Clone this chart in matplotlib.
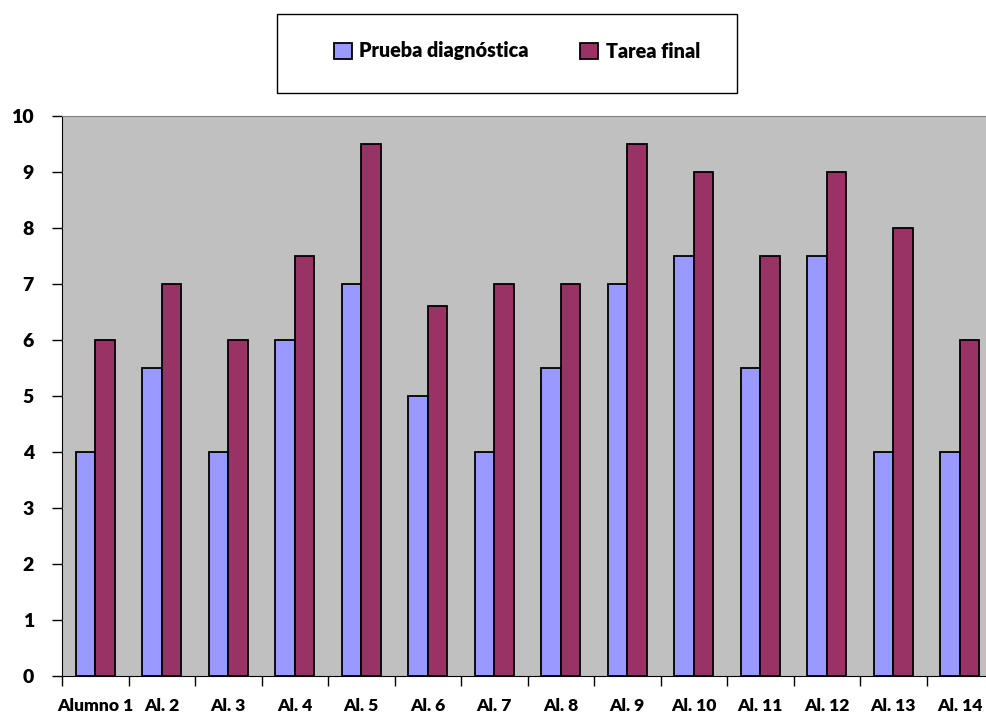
import numpy as np
import matplotlib.pyplot as plt
from matplotlib.patches import Rectangle

plt.rcParams['font.family'] = ['Lato', 'DejaVu Sans']
plt.rcParams['font.weight'] = 'heavy'

alumnos = ['Alumno 1', 'Al. 2', 'Al. 3', 'Al. 4', 'Al. 5', 'Al. 6', 'Al. 7',
           'Al. 8', 'Al. 9', 'Al. 10', 'Al. 11', 'Al. 12', 'Al. 13', 'Al. 14']
diagnostica = [4, 5.5, 4, 6, 7, 5, 4, 5.5, 7, 7.5, 5.5, 7.5, 4, 4]
tarea_final = [6, 7, 6, 7.5, 9.5, 6.6, 7, 7, 9.5, 9, 7.5, 9, 8, 6]

fig = plt.figure(figsize=(9.86, 7.19), dpi=100)
ax = fig.add_axes([62 / 986, 43 / 719, 931 / 986, 560 / 719])
ax.set_facecolor('#C0C0C0')

x = np.arange(len(alumnos))
w = 0.29
ax.bar(x - w / 2, diagnostica, w, color='#9999FF', edgecolor='black', linewidth=1.3,
       label='Prueba diagnóstica')
ax.bar(x + w / 2, tarea_final, w, color='#993366', edgecolor='black', linewidth=1.3,
       label='Tarea final')

ax.set_xlim(-0.5, len(alumnos) - 0.5)
ax.set_ylim(0, 10)
ax.set_yticks(range(0, 11))
ax.set_xticks(x)
ax.set_xticklabels(alumnos, fontsize=12.6, fontweight='heavy')
ax.tick_params(axis='x', length=0, pad=16)
ax.set_xticks(np.arange(-0.5, len(alumnos), 1), minor=True)
ax.tick_params(axis='x', which='minor', length=7.2, width=1, direction='out')
ax.tick_params(axis='y', length=7.2, width=1, direction='out', labelsize=14, pad=13)
for lbl in ax.get_yticklabels():
    lbl.set_fontweight('heavy')

ax.spines['top'].set_color('#808080')
ax.spines['right'].set_visible(False)
ax.spines['left'].set_color('black')
ax.spines['bottom'].set_color('black')

# caja de la leyenda
fig.patches.append(Rectangle((277 / 986, 626 / 719), 460 / 986, 79 / 719,
                             transform=fig.transFigure, facecolor='white',
                             edgecolor='black', linewidth=1))
handles, labels = ax.get_legend_handles_labels()
fig.legend(handles, labels, loc='center', bbox_to_anchor=(517 / 986, 668 / 719),
           ncol=2, frameon=False, fontsize=14.2, handlelength=0.9, handleheight=0.85,
           handletextpad=0.4, columnspacing=2.6)

fig.savefig('out.png', dpi=100)
